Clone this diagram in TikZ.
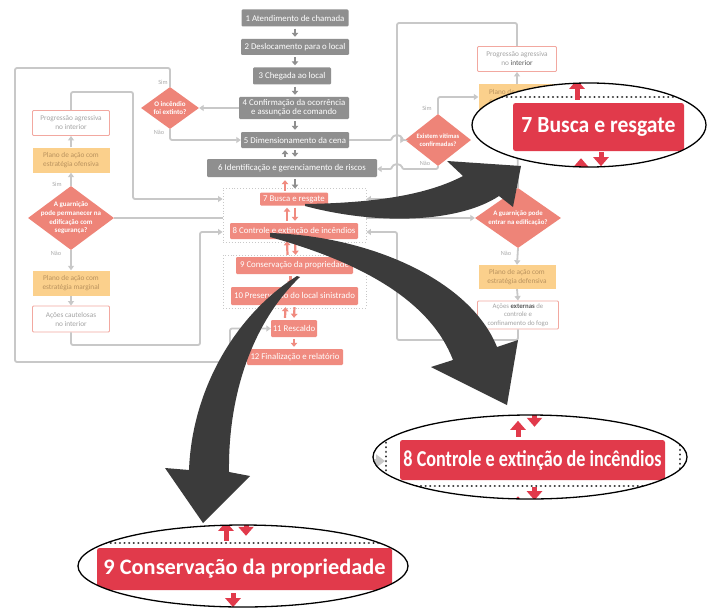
\documentclass[tikz,border=0pt]{standalone}
\usepackage{fontspec}
\usepackage{graphicx}
\setmainfont{Carlito}
\usetikzlibrary{shapes.geometric,arrows.meta}

\definecolor{boxgray}{HTML}{8F8F8F}
\definecolor{salmon}{HTML}{F08B80}
\definecolor{diared}{HTML}{EE8478}
\definecolor{paleorange}{HTML}{FBD08C}
\definecolor{orangetext}{HTML}{B9925E}
\definecolor{pinkline}{HTML}{F2A8A0}
\definecolor{linegray}{HTML}{C8C8C8}
\definecolor{taggray}{HTML}{ABABAB}
\definecolor{textgray}{HTML}{A3A3A3}
\definecolor{darktext}{HTML}{5A5A5A}
\definecolor{callred}{HTML}{E13A4B}
\definecolor{arrowdark}{HTML}{3B3B3B}
\definecolor{dotblack}{HTML}{333333}

\begin{document}
\begin{tikzpicture}[x=1pt,y=-1pt,
  graybox/.style={fill=boxgray,text=white,rounded corners=1.2pt,inner sep=0pt,align=center,font=\fontsize{8.8}{9}\selectfont},
  redbox/.style={fill=salmon,text=white,rounded corners=1.2pt,inner sep=0pt,align=center,font=\fontsize{8.8}{9}\selectfont},
  orangebox/.style={fill=paleorange,text=orangetext,inner sep=0pt,align=center,minimum width=77pt,minimum height=25pt,font=\fontsize{7.3}{9}\selectfont},
  whitebox/.style={draw=pinkline,fill=white,line width=0.9pt,text=textgray,rounded corners=1pt,inner sep=0pt,align=center,minimum width=77pt,minimum height=25pt,font=\fontsize{7.3}{9}\selectfont},
  dia/.style={diamond,fill=diared,inner sep=0pt},
  diatext/.style={text=white,align=center,inner sep=0pt,font=\fontsize{7}{8.6}\selectfont\bfseries},
  conn/.style={draw=linegray,line width=1.8pt,rounded corners=2pt,-{Triangle[width=6pt,length=4.5pt]}},
  plainconn/.style={draw=linegray,line width=1.8pt},
  grp/.style={draw=linegray,dotted,line width=0.9pt,inner sep=0pt},
  tag/.style={text=taggray,inner sep=0pt,font=\fontsize{6.3}{7}\selectfont},
  grayflow/.style={draw=boxgray,line width=2.2pt,-{Triangle[width=6.5pt,length=4pt]}},
  redflow/.style={draw=salmon,line width=2.2pt,-{Triangle[width=6.5pt,length=4pt]}},
  bigredflow/.style={draw=callred,line width=5pt,-{Triangle[width=15pt,length=9pt]}},
  dotline/.style={draw=dotblack,line width=2.4pt,line cap=round,dash pattern=on 0.01pt off 4.6pt},
  lens/.style={draw=black,line width=1.3pt},
  callbox/.style={fill=callred,text=white,rounded corners=2.5pt,inner sep=0pt},
  bigarrow/.style={fill=arrowdark}
]
\useasboundingbox (0,0) rectangle (708,607);
\fill[white] (0,0) rectangle (708,607);

% ---------- main column ----------
\node[graybox,minimum width=107pt,minimum height=17pt] (g1) at (295,18) {1 Atendimento de chamada};
\node[graybox,minimum width=108pt,minimum height=16pt] (g2) at (295,47) {2 Deslocamento para o local};
\node[graybox,minimum width=78pt,minimum height=17pt] (g3) at (292,76) {3 Chegada ao local};
\node[graybox,minimum width=110pt,minimum height=22pt] (g4) at (294,108) {4 Confirmação da ocorrência\\e assunção de comando};
\node[graybox,minimum width=108pt,minimum height=16pt] (g5) at (295,140) {5 Dimensionamento da cena};
\node[graybox,minimum width=170pt,minimum height=18pt] (g6) at (292,168) {6 Identificação e gerenciamento de riscos};

\node[grp,minimum width=143pt,minimum height=54pt] (D1) at (294.5,215) {};
\node[grp,minimum width=143pt,minimum height=53pt] (D2) at (294.5,281.5) {};

\node[redbox,minimum width=68pt,minimum height=13pt] (r7) at (294,199) {7 Busca e resgate};
\node[redbox,minimum width=128pt,minimum height=16pt] (r8) at (294,231) {8 Controle e extinção de incêndios};
\node[redbox,minimum width=117pt,minimum height=17pt] (r9) at (294.5,265.5) {9 Conservação da propriedade};
\node[redbox,minimum width=127pt,minimum height=18pt] (r10) at (294.5,296) {10 Preservação do local sinistrado};
\node[redbox,minimum width=46pt,minimum height=17pt] (r11) at (294,328.5) {11 Rescaldo};
\node[redbox,minimum width=96pt,minimum height=16pt] (r12) at (295,357) {12 Finalização e relatório};

% step arrows
\draw[grayflow] ([yshift=-2pt]g1.south) -- ([yshift=2pt]g2.north);
\draw[grayflow] ([yshift=-2pt]g2.south) -- ([yshift=2pt]g2.south |- g3.north);
\draw[grayflow] ([xshift=3pt,yshift=-2pt]g3.south) -- ([xshift=1pt,yshift=2pt]g4.north);
\draw[grayflow] ([xshift=1pt,yshift=-2pt]g4.south) -- ([yshift=2pt]g5.north);
\draw[grayflow] ([yshift=-2pt]g5.south) -- ([yshift=2pt]g5.south |- g6.north);
\draw[grayflow] ([xshift=-10pt,yshift=2pt]g5.south |- g6.north) -- ([xshift=-10pt,yshift=-2pt]g5.south);
\draw[grayflow] ([xshift=3pt,yshift=-2pt]g6.south) -- ([xshift=1pt,yshift=-1pt]r7.north |- D1.north);
\draw[redflow] ([xshift=-9pt,yshift=-3pt]r7.north |- D1.north) -- ([xshift=-7pt,yshift=-3pt]g6.south);
\draw[redflow] ([xshift=-7pt,yshift=2pt]r8.north) -- ([xshift=-7pt,yshift=-2pt]r7.south);
\draw[redflow] ([xshift=1pt,yshift=-2pt]r7.south) -- ([xshift=1pt,yshift=2pt]r8.north);
\draw[redflow] ([xshift=-7pt,yshift=2pt]r9.north) -- ([xshift=-7pt,yshift=-2pt]r8.south);
\draw[redflow] ([xshift=1pt,yshift=-2pt]r8.south) -- ([xshift=1pt,yshift=2pt]r9.north);
\draw[redflow] ([xshift=-4pt,yshift=-2pt]r9.south) -- ([xshift=-4pt,yshift=2pt]r10.north);
\draw[redflow] ([xshift=-9pt,yshift=2pt]r11.north) -- ([xshift=-9pt,yshift=-2pt]r10.south);
\draw[redflow] ([yshift=-2pt]r10.south) -- ([yshift=2pt]r11.north);
\draw[redflow] ([yshift=-2pt]r11.south) -- ([yshift=2pt]r11.south |- r12.north);

% ---------- left branch ----------
\node[dia,minimum width=58pt,minimum height=42pt,label={[diatext]center:{O incêndio\\foi extinto?}}] (d1) at (170,108) {};
\node[dia,minimum width=86pt,minimum height=64pt,label={[diatext]center:{A guarnição\\pode permanecer na\\edificação com\\segurança?}}] (d2) at (71,218) {};
\node[whitebox] (w1) at (71,123) {Progressão agressiva\\no interior};
\node[orangebox] (o1) at (71,160) {Plano de ação com\\estratégia ofensiva};
\node[orangebox] (o2) at (71,283) {Plano de ação com\\estratégia marginal};
\node[whitebox,minimum height=26pt] (w2) at (71,319) {Ações cautelosas\\no interior};

\draw[conn] (g4.west) -- (d1.east);
\draw[conn] (d1.south) |- (g5.west);
\draw[conn] (d1.north) |- (15,68) |- (230,362) |- (r11.west);
\draw[conn] (d2.north) -- (o1.south);
\draw[conn] (o1.north) -- (w1.south);
\draw[conn] (d2.south) -- (o2.north);
\draw[conn] (o2.south) -- (w2.north);
\draw[conn] (w1.north) |- (133,92) |- (D1.west |- 0,199);
\draw[conn] (w2.south) |- (200,345) |- (D1.west |- 0,232);
\draw[plainconn] (d2.east) -- (D1.west |- d2.east);

\node[tag] at (163,82) {Sim};
\node[tag] at (159,132) {Não};
\node[tag] at (57,184) {Sim};
\node[tag] at (56,253) {Não};

% ---------- right branch ----------
\node[dia,minimum width=66pt,minimum height=52pt,label={[diatext,font=\fontsize{6.6}{8.4}\selectfont\bfseries]center:{Existem vítimas\\confirmadas?}}] (d3) at (438,140) {};
\node[dia,minimum width=86pt,minimum height=60pt,label={[diatext,font=\fontsize{6.8}{8.6}\selectfont\bfseries]center:{A guarnição pode\\entrar na edificação?}}] (d4) at (518,218) {};
\node[whitebox,minimum width=79pt] (w3) at (517,59) {Progressão agressiva\\no \textcolor{darktext}{interior}};
\node[orangebox] (o3) at (517,97) {Plano de ação com\\estratégia ofensiva};
\node[orangebox,minimum height=24pt] (o4) at (517,277) {Plano de ação com\\estratégia defensiva};
\node[whitebox,minimum width=81pt,minimum height=28pt,font=\fontsize{6.8}{8.4}\selectfont] (w4) at (518,315) {Ações \textcolor{darktext}{\bfseries externas} de\\controle e\\confinamento do fogo};

\draw[conn] (g5.east) -- (392,140) arc[start angle=180,end angle=360,radius=5] -- (d3.west);
\draw[conn] (d3.south) -- (438,169) -- (402,169) arc[start angle=0,end angle=-180,radius=5] -- (g6.east |- 0,169);
\draw[conn] (d3.north) |- (o3.west);
\draw[conn] (o3.north) -- (w3.south);
\draw[conn] (w3.north) |- (397,23) |- (D1.east |- 0,199);
\draw[conn] (D1.east |- d4.west) -- (d4.west);
\draw[conn] (d4.north) -- (o3.south);
\draw[conn] (d4.south) -- (o4.north);
\draw[conn] (o4.south) -- (w4.north);
\draw[conn] (w4.south) |- (397,340) |- (D1.east |- 0,232);

\node[tag] at (427,108) {Sim};
\node[tag] at (425,163) {Não};
\node[tag] at (506,253) {Não};

% ---------- magnified views ----------
\begin{scope}
  \fill[white] (589,125) ellipse [x radius=117, y radius=42];
  \clip (589,125) ellipse [x radius=117, y radius=42];
  \draw[dotline] (470,97) -- (708,97);
  \node[callbox,minimum width=171pt,minimum height=48pt] (c7) at (598.5,127) {\resizebox{154pt}{15pt}{\bfseries 7 Busca e resgate}};
  \draw[bigredflow] ([xshift=-21.5pt,yshift=3pt]c7.north) -- ++(0,-20);
  \draw[bigredflow] ([xshift=2.5pt,yshift=-1pt]c7.south) -- ++(0,14);
  \draw[bigredflow] ([xshift=-17.5pt,yshift=-20pt]c7.south) -- ++(0,-13);
\end{scope}
\draw[lens] (589,125) ellipse [x radius=117, y radius=42];

\begin{scope}
  \fill[white] (530,457) ellipse [x radius=157, y radius=42];
  \clip (530,457) ellipse [x radius=157, y radius=42];
  \draw[dotline] (386,415) -- (386,486) -- (680,486) -- (680,415);
  \draw[draw=linegray,line width=4pt,-{Triangle[width=13pt,length=9pt]}] (355,461) -- (385,461);
  \node[callbox,minimum width=265pt,minimum height=40pt] (c8) at (532.5,460) {\resizebox{258pt}{16pt}{\bfseries 8 Controle e extinção de incêndios}};
  \draw[bigredflow] ([xshift=-14.5pt,yshift=3pt]c8.north) -- ++(0,-16);
  \draw[bigredflow] ([xshift=2pt,yshift=29pt]c8.north) -- ++(0,16);
  \draw[bigredflow] ([xshift=2pt,yshift=-7pt]c8.south) -- ++(0,13);
  \draw[bigredflow] ([xshift=-14.5pt,yshift=-30pt]c8.south) -- ++(0,-14);
\end{scope}
\draw[lens] (530,457) ellipse [x radius=157, y radius=42];

\begin{scope}
  \fill[white] (243,566) ellipse [x radius=165, y radius=41];
  \clip (243,566) ellipse [x radius=165, y radius=41];
  \draw[dotline] (60,543) -- (430,543);
  \node[callbox,minimum width=295pt,minimum height=42pt] (c9) at (244.5,569) {\resizebox{282pt}{15.5pt}{\bfseries 9 Conservação da propriedade}};
  \draw[bigredflow] ([xshift=-18.5pt,yshift=7pt]c9.north) -- ++(0,-19);
  \draw[bigredflow] ([xshift=1.5pt,yshift=28pt]c9.north) -- ++(0,16);
  \draw[bigredflow] ([xshift=-11.5pt,yshift=-3pt]c9.south) -- ++(0,14);
\end{scope}
\draw[lens] (243,566) ellipse [x radius=165, y radius=41];

% ---------- pointer arrows ----------
\fill[bigarrow] (305,204) .. controls (370,203) and (425,196) .. (463,176)
  -- (447,161) -- (521,166) -- (513,207) -- (499,196)
  .. controls (460,222) and (380,226) .. (305,206) -- cycle;
\fill[bigarrow] (270,233) .. controls (370,236) and (470,280) .. (497,347)
  -- (518,340) -- (507,405) -- (431,367) -- (453,360)
  .. controls (430,300) and (360,262) .. (270,237) -- cycle;
\fill[bigarrow] (300,277) .. controls (255,320) and (228,390) .. (229,472)
  -- (250,476) -- (203,523) -- (165,468) -- (189,470)
  .. controls (192,390) and (235,315) .. (297,276) -- cycle;

\end{tikzpicture}
\end{document}
